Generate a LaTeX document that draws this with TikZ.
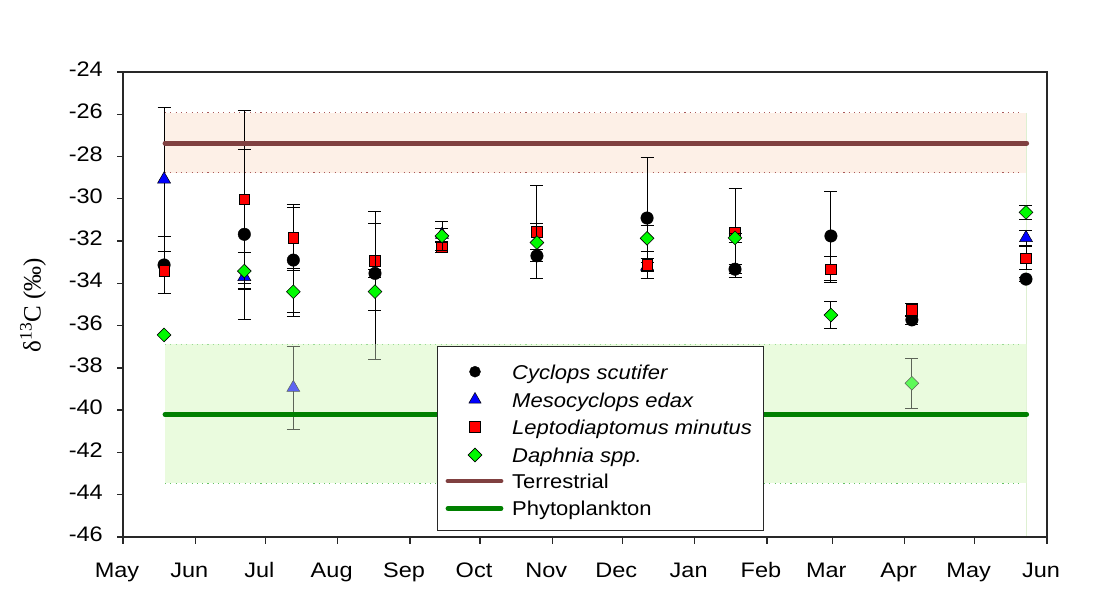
\documentclass[tikz,border=0pt]{standalone}
\usepackage{fontspec}
\setmainfont{Liberation Sans}
\newfontfamily\serifF{Liberation Serif}
\usetikzlibrary{shapes.geometric}
\definecolor{terrfill}{RGB}{253,240,231}
\definecolor{terrdot}{RGB}{170,90,90}
\definecolor{terrline}{RGB}{128,64,64}
\definecolor{phyfill}{RGB}{234,251,222}
\definecolor{phydot}{RGB}{100,195,100}
\definecolor{phyline}{RGB}{0,128,0}
\definecolor{dgreen}{RGB}{0,250,0}
\definecolor{axiscol}{RGB}{40,40,40}
\definecolor{edgecol}{RGB}{222,240,210}
\newcommand\EB[3]{%
  \draw[ebar] (#1,{#2-#3}) -- (#1,{#2+#3});
  \draw[ebar] ([xshift=-6.5pt]#1,{#2-#3}) -- ([xshift=6.5pt]#1,{#2-#3});
  \draw[ebar] ([xshift=-6.5pt]#1,{#2+#3}) -- ([xshift=6.5pt]#1,{#2+#3});}
\begin{document}
\begin{tikzpicture}[x=1pt,y=1pt,
  ebar/.style={line width=0.9pt, black},
  axisline/.style={line width=1.3pt, axiscol},
  cyc/.style={circle, fill=black, draw=black, inner sep=0pt, minimum size=12.5pt},
  mes/.style={regular polygon, regular polygon sides=3, fill=blue, draw=black, line width=0.5pt, inner sep=0pt, minimum size=15pt},
  lep/.style={rectangle, fill=red, draw=black, line width=0.6pt, inner sep=0pt, minimum size=10.5pt},
  dap/.style={diamond, fill=dgreen, draw=black, line width=0.6pt, inner sep=0pt, minimum size=14pt},
  lbl/.style={font=\fontsize{21}{25}\selectfont, inner sep=0pt, xscale=1.12},
  leglbl/.style={font=\fontsize{20}{24}\selectfont\itshape, inner sep=0pt, xscale=1.1},
  legup/.style={font=\fontsize{20}{24}\selectfont, inner sep=0pt, xscale=1.1},
  terrdots/.style={terrdot, line width=1.1pt, dash pattern=on 1.1pt off 4.2pt},
  phydots/.style={phydot, line width=1.1pt, dash pattern=on 1.1pt off 4.2pt},
  bandline/.style={line width=4.8pt, line cap=round}]
\useasboundingbox (0,0) rectangle (1096,-600);
\fill[white] (0,0) rectangle (1096,-600);
\begin{scope}[shift={(123pt,435.3pt)}, x=2.3333pt, y=21.136pt]
  % bands
  \fill[terrfill] (18,-25.93) rectangle (387.3,-28.76);
  \fill[phyfill] (18,-36.88) rectangle (387.3,-43.46);
  \draw[edgecol, line width=0.8pt] (387.3,-25.93) -- (387.3,-46);
  \draw[terrdots] (18,-25.93) -- (385.5,-25.93);
  \draw[terrdots] (18,-28.76) -- (385.5,-28.76);
  \draw[phydots] (18,-36.88) -- (385.5,-36.88);
  \draw[phydots] (18,-43.46) -- (385.5,-43.46);
  % Cyclops scutifer
  \foreach \d/\v/\e [count=\i] in {17.6/-33.13/1.37, 52/-31.68/4.02, 73/-32.9/2.65, 108/-33.53/0.2,
      177.4/-32.7/0.28, 224.6/-30.91/2.86, 262.3/-33.33/0.2, 303.4/-31.76/2.1, 338.1/-35.73/0.2, 387/-33.8/0.1}
    {\EB{\d}{\v}{\e} \node[cyc] (c\i) at (\d,\v) {};}
  % Mesocyclops edax
  \foreach \d/\v/\e [count=\i] in {17.6/-29.08/3.39, 52/-33.69/0.3, 73/-38.94/1.95, 136.7/-31.7/0.3,
      224.6/-33.2/0.2, 387/-31.85/0.35}
    {\EB{\d}{\v}{\e} \node[mes] (m\i) at (\d,\v) {};}
  % Leptodiaptomus minutus
  \node[lep] (l0) at (17.6,-33.4) {};
  \foreach \d/\v/\e [count=\i] in {52/-30.02/4.2, 73/-31.84/1.44, 108/-32.93/2.33, 136.7/-32.3/0.25,
      177.4/-31.57/2.19, 224.6/-33.13/0.3, 262.3/-31.6/2.1, 303.4/-33.34/0.6, 338.1/-35.26/0.3, 387/-32.81/0.55}
    {\EB{\d}{\v}{\e} \node[lep] (l\i) at (\d,\v) {};}
  % Daphnia spp.
  \node[dap] (d0) at (17.6,-36.44) {};
  \foreach \d/\v/\e [count=\i] in {52/-33.42/0.87, 73/-34.4/1.0, 108/-34.39/3.2, 136.7/-31.76/0.7,
      177.4/-32.07/0.9, 224.6/-31.87/0.6, 262.3/-31.85/0.2, 303.4/-35.5/0.63, 338.1/-38.73/1.18, 387/-30.64/0.32}
    {\EB{\d}{\v}{\e} \node[dap] (d\i) at (\d,\v) {};}
  % translucent phytoplankton overlay
  \fill[phyfill, opacity=0.4] (18,-36.88) rectangle (387.3,-43.46);
  % source lines
  \draw[bandline, terrline] (18,-27.37) -- (387.3,-27.37);
  \draw[bandline, phyline] (18,-40.2) -- (387.3,-40.2);
  % axes
  \draw[axisline] (0,-24) -- (0,-46) -- (396,-46) -- (396,-24) -- cycle;
  \foreach \v in {-24,-26,...,-46}
    {\draw[axisline] (0,\v) -- ([xshift=-6pt]0,\v);
     \node[lbl, anchor=mid east] at ([xshift=-20pt,yshift=-2pt]0,\v) {\v};}
  \foreach \d/\m in {0/May,31/Jun,61/Jul,92/Aug,123/Sep,153/Oct,184/Nov,214/Dec,245/Jan,276/Feb,304/Mar,335/Apr,365/May,396/Jun}
    {\draw[axisline] (\d,-46) -- ([yshift=-7pt]\d,-46);
     \node[lbl, anchor=base] at ([xshift=-6pt,yshift=-41pt]\d,-46) {\m};}
\end{scope}
% y label
\node[rotate=90, inner sep=0pt, font=\serifF\fontsize{25}{30}\selectfont] (ylab) at (33,-305) {δ\textsuperscript{13}C (‰)};
% legend
\node[draw=axiscol, line width=1pt, fill=white, minimum width=326pt, minimum height=184pt, anchor=north west, inner sep=0pt] (legend) at (437,-346) {};
\node[cyc, minimum size=11pt] (lc) at (475,-371.7) {};
\node[leglbl, anchor=base west] (tc) at (512,-379) {Cyclops scutifer};
\node[mes, minimum size=14pt] (lm) at (475,-399.5) {};
\node[leglbl, anchor=base west] (tm) at (512,-407) {Mesocyclops edax};
\node[lep] (ll) at (475,-426.7) {};
\node[leglbl, anchor=base west] (tl) at (512,-434) {Leptodiaptomus minutus};
\node[dap] (ld) at (475,-455) {};
\node[leglbl, anchor=base west] (td) at (512,-462) {Daphnia spp.};
\coordinate (lta) at (448,-481);
\coordinate (ltb) at (501,-481);
\draw[bandline, terrline] (lta) -- (ltb);
\node[legup, anchor=base west] (tt) at (512,-488.5) {Terrestrial};
\coordinate (lpa) at (448,-508.3);
\coordinate (lpb) at (501,-508.3);
\draw[bandline, phyline] (lpa) -- (lpb);
\node[legup, anchor=base west] (tp) at (512,-515.8) {Phytoplankton};
\end{tikzpicture}
\end{document}
